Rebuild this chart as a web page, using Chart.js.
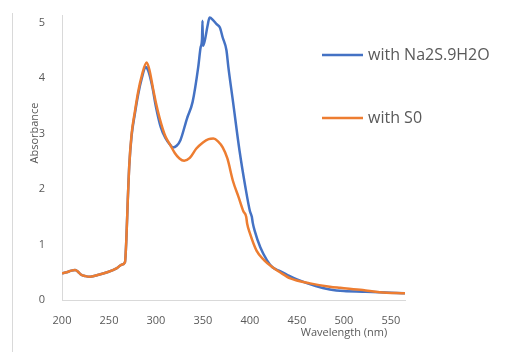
<!DOCTYPE html>
<html>
<head>
<meta charset="utf-8">
<script src="https://cdn.jsdelivr.net/npm/chart.js@4/dist/chart.umd.min.js"></script>
<style>
    html, body { margin: 0; padding: 0; background: #fff; }
    #wrap { width: 526px; height: 352px; position: relative; }
</style>
</head>
<body>
<div id="wrap"><canvas id="spectrumChart"></canvas></div>
<script>
// Espectro com Na2S.9H2O (azul)
const naWavelength = [200, 205, 210, 214, 217, 220, 225, 230, 240, 248, 258, 264, 267, 268.5, 270, 271.5, 274, 277.5, 281, 285, 289, 292, 296,
    300, 305, 310, 315, 318, 322, 326, 333, 339, 345, 347.5, 349, 349.5, 350, 352, 355, 357, 361, 364.5, 368,
    371, 375, 377, 382, 389, 395, 400, 402, 403, 405, 411, 418, 424, 432, 440, 450, 470, 485, 500, 520, 538, 565];
const naAbsorbance = [0.48, 0.50, 0.53, 0.54, 0.51, 0.46, 0.43, 0.42, 0.46, 0.50, 0.57, 0.64, 0.68, 1.1, 1.8, 2.4, 2.95, 3.35, 3.7, 4.0, 4.2, 4.12, 3.85,
    3.48, 3.12, 2.92, 2.8, 2.75, 2.78, 2.88, 3.27, 3.57, 4.2, 4.55, 4.7, 5.03, 4.58, 4.68, 4.95, 5.09, 5.04, 4.97, 4.91,
    4.73, 4.5, 4.2, 3.57, 2.68, 2.05, 1.6, 1.5, 1.39, 1.25, 0.95, 0.72, 0.59, 0.52, 0.45, 0.37, 0.25, 0.19, 0.16, 0.15, 0.14, 0.12];

// Espectro com S0 (laranja)
const s0Wavelength = [200, 205, 210, 214, 217, 220, 225, 230, 240, 248, 258, 264, 267, 268.5, 270, 271.5, 274, 277.5, 281, 285, 290, 293, 297,
    300, 304, 310, 315, 320, 325, 330, 336, 343, 350, 356, 361, 366, 371, 376, 382, 388, 393, 396, 397,
    400, 407, 415, 424, 432, 443, 464, 485, 496, 520, 538, 565];
const s0Absorbance = [0.48, 0.50, 0.53, 0.54, 0.51, 0.46, 0.43, 0.42, 0.46, 0.50, 0.57, 0.64, 0.68, 1.1, 1.8, 2.4, 2.98, 3.39, 3.75, 4.05, 4.28, 4.15, 3.8,
    3.55, 3.27, 2.95, 2.8, 2.65, 2.55, 2.51, 2.56, 2.73, 2.84, 2.9, 2.91, 2.86, 2.75, 2.55, 2.14, 1.85, 1.6, 1.5, 1.38,
    1.2, 0.89, 0.72, 0.59, 0.5, 0.39, 0.30, 0.24, 0.22, 0.18, 0.14, 0.12];

const seriesLabels = ['with Na2S.9H2O', 'with S0'];
const xTickValues = [200, 250, 300, 350, 400, 450, 500, 550];
const yTickValues = [0, 1, 2, 3, 4, 5];

const textColor = '#595959';
const axisColor = '#d9d9d9';

function toPoints(xs, ys) {
    return xs.map((x, i) => ({ x: x, y: ys[i] }));
}

// Títulos dos eixos, legenda e borda esquerda desenhados à mão
const decorPlugin = {
    id: 'decor',
    afterDraw(chart) {
        const ctx = chart.ctx;
        ctx.save();

        ctx.strokeStyle = axisColor;
        ctx.lineWidth = 1;
        ctx.beginPath();
        ctx.moveTo(12.5, 13);
        ctx.lineTo(12.5, 352);
        ctx.stroke();

        ctx.fillStyle = textColor;
        ctx.font = "11px 'Open Sans', 'Liberation Sans', sans-serif";
        ctx.textAlign = 'center';
        ctx.textBaseline = 'middle';
        ctx.fillText('Wavelength (nm)', 344, 333);

        ctx.save();
        ctx.translate(35, 133);
        ctx.rotate(-Math.PI / 2);
        ctx.fillText('Absorbance', 0, 0);
        ctx.restore();

        const legendY = [55, 118];
        ctx.font = "16px 'Open Sans', 'Liberation Sans', sans-serif";
        ctx.textAlign = 'left';
        chart.data.datasets.forEach((ds, i) => {
            ctx.strokeStyle = ds.borderColor;
            ctx.lineWidth = 2.5;
            ctx.beginPath();
            ctx.moveTo(322, legendY[i]);
            ctx.lineTo(363, legendY[i]);
            ctx.stroke();
            ctx.fillStyle = textColor;
            ctx.fillText(ds.label, 368, legendY[i]);
        });

        ctx.restore();
    }
};

const spectrumChart = new Chart(document.getElementById('spectrumChart'), {
    type: 'line',
    data: {
        datasets: [{
            label: seriesLabels[0],
            data: toPoints(naWavelength, naAbsorbance),
            borderColor: '#4472c4',
            borderWidth: 2.5,
            pointRadius: 0,
            cubicInterpolationMode: 'monotone',
            order: 1
        }, {
            label: seriesLabels[1],
            data: toPoints(s0Wavelength, s0Absorbance),
            borderColor: '#ed7d31',
            borderWidth: 2.5,
            pointRadius: 0,
            cubicInterpolationMode: 'monotone',
            order: 0
        }]
    },
    options: {
        responsive: true,
        maintainAspectRatio: false,
        animation: false,
        layout: {
            padding: { left: 0, top: 13, right: 121, bottom: 0 }
        },
        plugins: {
            legend: { display: false },
            tooltip: { enabled: false }
        },
        scales: {
            x: {
                type: 'linear',
                min: 200,
                max: 565,
                afterBuildTicks: function(scale) {
                    scale.ticks = xTickValues.map(v => ({ value: v }));
                },
                afterFit: function(scale) {
                    scale.height = 52;
                },
                ticks: {
                    color: textColor,
                    padding: 6,
                    maxRotation: 0,
                    autoSkip: false,
                    font: { size: 11, family: "'Open Sans', 'Liberation Sans', sans-serif" }
                },
                grid: { display: false },
                border: { display: true, color: axisColor, width: 1 }
            },
            y: {
                min: 0,
                max: 5.125,
                afterBuildTicks: function(scale) {
                    scale.ticks = yTickValues.map(v => ({ value: v }));
                },
                afterFit: function(scale) {
                    scale.width = 62;
                },
                ticks: {
                    color: textColor,
                    padding: 9,
                    autoSkip: false,
                    font: { size: 11, family: "'Open Sans', 'Liberation Sans', sans-serif" }
                },
                grid: { display: false },
                border: { display: true, color: axisColor, width: 1 }
            }
        }
    },
    plugins: [decorPlugin]
});
</script>
</body>
</html>
